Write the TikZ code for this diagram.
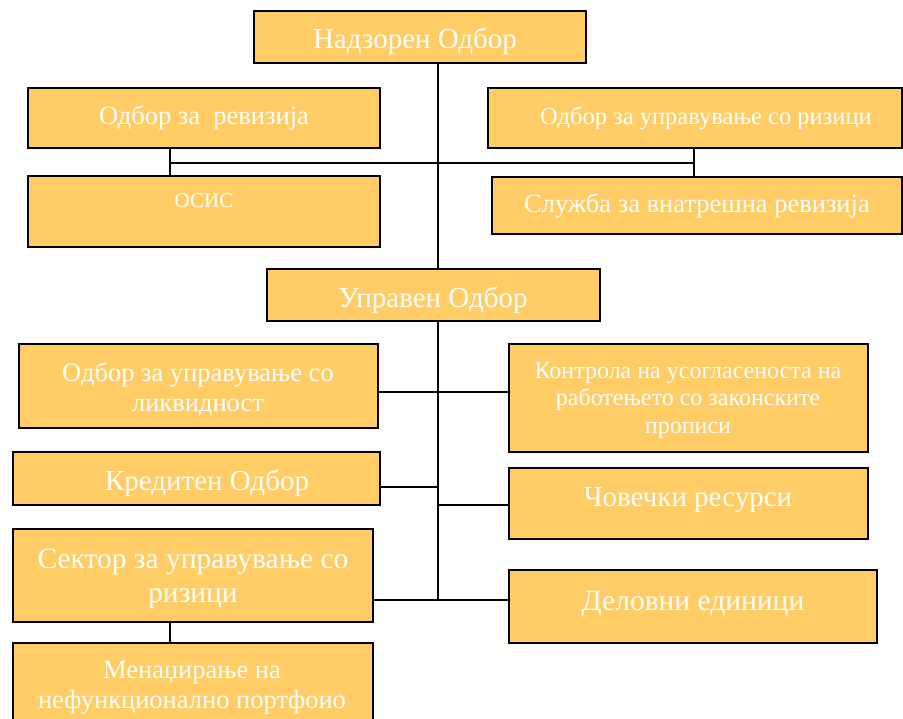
\documentclass[tikz,border=0pt]{standalone}
\usepackage{fontspec}
\setmainfont{Liberation Serif}
\definecolor{boxfill}{HTML}{FFCC66}
\begin{document}
\begin{tikzpicture}[x=1pt,y=-1pt,
  box/.style={draw=black, line width=2.2pt, fill=boxfill, inner sep=0pt, outer sep=0pt},
  txt/.style={text=white, inner sep=0pt, align=center},
  conn/.style={draw=black, line width=1.4pt}]
\useasboundingbox (0,0) rectangle (903,719);
% boxes
\newcommand{\mybox}[5]{\node[box, minimum width={#4-#2}, minimum height={#5-#3}] (#1) at ({(#2+#4)/2},{(#3+#5)/2}) {};}
\mybox{nad}{254}{11}{586}{63}
\mybox{rev}{28}{88}{380}{148}
\mybox{riz}{488}{88}{902}{148}
\mybox{osis}{28}{176}{380}{247}
\mybox{sluz}{492}{177}{902}{234}
\mybox{upr}{267}{269}{600}{321}
\mybox{likv}{19}{344}{378}{428}
\mybox{kontr}{509}{344}{868}{452}
\mybox{kred}{13}{452}{380}{505}
\mybox{cov}{509}{468}{868}{539}
\mybox{sekt}{13}{529}{373}{622}
\mybox{delov}{509}{570}{877}{643}
\mybox{menag}{13}{643}{373}{735}
% texts
\node[txt, font=\fontsize{29}{33}\selectfont] (tnad) at (415,41.5) {Надзорен Одбор};
\node[txt, font=\fontsize{26.5}{30}\selectfont] (trev) at (204,118) {Одбор за\ \ ревизија};
\node[txt, font=\fontsize{24.5}{28}\selectfont] (triz) at (706,118) {Одбор за управување со ризици};
\node[txt, font=\fontsize{21}{25}\selectfont] (tosis) at (204,201) {ОСИС};
\node[txt, font=\fontsize{26.5}{30}\selectfont] (tsluz) at (697,206) {Служба за внатрешна ревизија};
\node[txt, font=\fontsize{29}{33}\selectfont] (tupr) at (433,300) {Управен Одбор};
\node[txt, font=\fontsize{26.5}{30}\selectfont] (tlikv) at (198,390) {Одбор за управување со\\ликвидност};
\node[txt, font=\fontsize{24}{27.5}\selectfont] (tkontr) at (688,400.5) {Контрола на усогласеноста на\\работењето со законските\\прописи};
\node[txt, font=\fontsize{29}{33}\selectfont] (tkred) at (207,483) {Кредитен Одбор};
\node[txt, font=\fontsize{29}{33}\selectfont] (tcov) at (688,500.5) {Човечки ресурси};
\node[txt, font=\fontsize{29.5}{34}\selectfont] (tsekt) at (193,579) {Сектор за управување со\\ризици};
\node[txt, font=\fontsize{29.5}{34}\selectfont] (tdelov) at (693,604) {Деловни единици};
\node[txt, font=\fontsize{26.5}{30}\selectfont] (tmenag) at (192,687.5) {Менаџирање на\\нефункционално портфоио};
% connectors
\coordinate (j1) at (438,163);
\coordinate (jl) at (170,163);
\coordinate (jr) at (694,163);
\coordinate (j2) at (438,392);
\coordinate (j3) at (438,487);
\coordinate (j4) at (438,505);
\coordinate (j5) at (438,600);
\draw[conn] (nad.south -| j1) -- (upr.north -| j1);
\draw[conn] (jl) -- (jr);
\draw[conn] (rev.south -| jl) -- (osis.north -| jl);
\draw[conn] (riz.south -| jr) -- (sluz.north -| jr);
\draw[conn] (upr.south -| j5) -- (j5);
\draw[conn] (likv.east |- j2) -- (kontr.west |- j2);
\draw[conn, line width=2pt] (kred.east |- j3) -- (j3);
\draw[conn] (j4) -- (cov.west |- j4);
\draw[conn] (sekt.east |- j5) -- (delov.west |- j5);
\draw[conn] (sekt.south -| jl) -- (menag.north -| jl);
\end{tikzpicture}
\end{document}
